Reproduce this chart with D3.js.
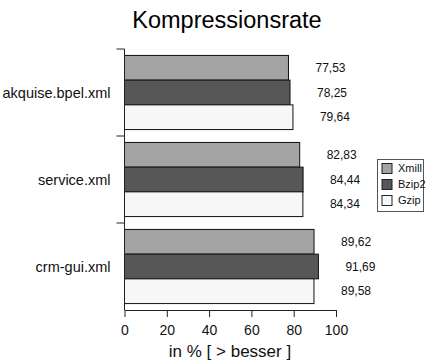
<!DOCTYPE html>
<html>
<head>
<meta charset="utf-8">
<script src="https://cdn.jsdelivr.net/npm/d3@7"></script>
<style>
  html, body { margin: 0; padding: 0; background: #fff; }
  svg { display: block; font-family: Arial, "Liberation Sans", sans-serif; }
</style>
</head>
<body>
<svg id="chart" width="428" height="361"></svg>
<script>
// Compression rate per file and compressor (percent, higher is better)
const files = ["akquise.bpel.xml", "service.xml", "crm-gui.xml"];
const compressors = ["Xmill", "Bzip2", "Gzip"];
const xmill = [77.53, 82.83, 89.62];
const bzip2 = [78.25, 84.44, 91.69];
const gzip  = [79.64, 84.34, 89.58];
const xTicks = [0, 20, 40, 60, 80, 100];
const colors = ["#a3a3a3", "#575757", "#f7f7f7"];

const seriesValues = [xmill, bzip2, gzip];
const rows = files.map((f, i) => ({
  file: f,
  values: compressors.map((c, j) => ({ key: c, value: seriesValues[j][i] }))
}));

const svg = d3.select("#chart");
const margin = { left: 124.5, right: 92, top: 49, bottom: 51 };
const W = 428, H = 361;
const innerW = W - margin.left - margin.right;
const innerH = H - margin.top - margin.bottom;

const g = svg.append("g").attr("transform", `translate(${margin.left},${margin.top})`);

const x = d3.scaleLinear().domain([0, 100]).range([0, innerW]);
const y0 = d3.scaleBand().domain(files).range([0, innerH]).paddingInner(0).paddingOuter(0);
const y1 = d3.scaleBand().domain(compressors).range([0, y0.bandwidth()]).paddingOuter(0.26).paddingInner(0);

const fmt = v => d3.format(".2f")(v).replace(".", ",");

// Title
svg.append("text")
  .attr("x", 227).attr("y", 28)
  .attr("text-anchor", "middle")
  .attr("font-size", 23.5)
  .attr("fill", "#000")
  .text("Kompressionsrate");

// Bars
const groups = g.selectAll("g.grp").data(rows).join("g")
  .attr("class", "grp")
  .attr("transform", d => `translate(0,${y0(d.file)})`);

groups.selectAll("rect").data(d => d.values).join("rect")
  .attr("x", 0)
  .attr("y", d => y1(d.key))
  .attr("width", d => x(d.value))
  .attr("height", y1.bandwidth())
  .attr("fill", (d, i) => colors[i])
  .attr("stroke", "#111")
  .attr("stroke-width", 1);

// Value labels
groups.selectAll("text.val").data(d => d.values).join("text")
  .attr("class", "val")
  .attr("x", d => x(d.value) + 27)
  .attr("y", d => y1(d.key) + y1.bandwidth() / 2)
  .attr("dy", "0.35em")
  .attr("font-size", 12)
  .attr("fill", "#111")
  .text(d => fmt(d.value));

// X axis
const xAxis = g.append("g")
  .attr("transform", `translate(0,${innerH})`)
  .call(d3.axisBottom(x).tickValues(xTicks).tickSize(7).tickSizeOuter(0));
xAxis.select(".domain").attr("stroke", "#222");
xAxis.selectAll(".tick line").attr("stroke", "#222");
xAxis.selectAll(".tick text").attr("font-size", 14).attr("fill", "#111").attr("dy", "1.05em");

// Y axis with ticks between categories
const yAxis = g.append("g");
yAxis.append("line")
  .attr("x1", 0).attr("x2", 0).attr("y1", 0).attr("y2", innerH)
  .attr("stroke", "#222");
const bounds = files.map(f => y0(f));
yAxis.selectAll("line.tk").data(bounds).join("line")
  .attr("class", "tk")
  .attr("x1", -8).attr("x2", 0)
  .attr("y1", d => d).attr("y2", d => d)
  .attr("stroke", "#222");
yAxis.selectAll("text").data(files).join("text")
  .attr("x", -14)
  .attr("y", d => y0(d) + y0.bandwidth() / 2)
  .attr("dy", "0.35em")
  .attr("text-anchor", "end")
  .attr("font-size", 14.5)
  .attr("fill", "#111")
  .text(d => d);

// Axis title
svg.append("text")
  .attr("x", 230).attr("y", 357)
  .attr("text-anchor", "middle")
  .attr("font-size", 17)
  .attr("fill", "#111")
  .text("in % [ > besser ]");

// Legend
const lg = svg.append("g").attr("transform", "translate(377.5,159.5)");
lg.append("rect").attr("width", 46).attr("height", 52)
  .attr("fill", "#fff").attr("stroke", "#555");
const items = lg.selectAll("g.it").data(compressors).join("g")
  .attr("class", "it")
  .attr("transform", (d, i) => `translate(4.5,${4 + i * 16})`);
items.append("rect").attr("width", 10).attr("height", 10)
  .attr("fill", (d, i) => colors[i]).attr("stroke", "#222");
items.append("text").attr("x", 16).attr("y", 5).attr("dy", "0.35em")
  .attr("font-size", 11).attr("fill", "#111").text(d => d);
</script>
</body>
</html>
